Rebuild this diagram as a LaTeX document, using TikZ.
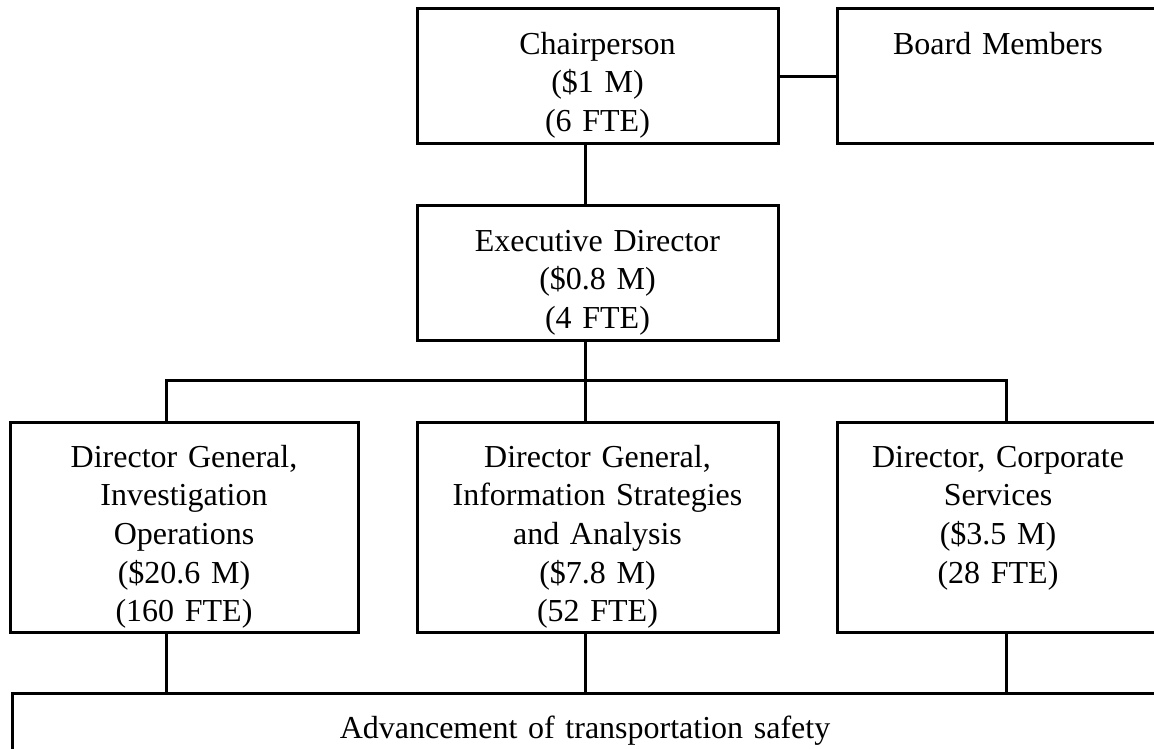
\documentclass[tikz,border=0pt]{standalone}
\usepackage{fontspec}
\setmainfont{Liberation Serif}
\usepackage{tikz}
\usetikzlibrary{positioning,calc}

\begin{document}
\begin{tikzpicture}[
  box/.style={draw, line width=1.5pt, inner sep=0pt, outer sep=0pt, align=center,
    text height=22.6pt, font=\fontsize{16pt}{19.3pt}\selectfont},
  headbox/.style={box, text width=180.5pt, text depth=44.9pt},
  unitbox/.style={box, text depth=82.4pt},
  link/.style={line width=1.5pt}
]
\path[fill=white, use as bounding box] (0,0) rectangle (577pt,-374pt);
\coordinate (spine) at (292.5pt,0);
\coordinate (lefttap) at (83pt,0);
\coordinate (righttap) at (503pt,0);

\node[headbox] (chair) at (298.75pt,-38.25pt) {Chairperson\\(\$1 M)\\(6 FTE)};
\node[headbox, text width=161pt, right=29.5pt of chair] (board) {Board Members};
\node[headbox, text depth=44.4pt, below=31pt of chair] (exec) {Executive Director\\(\$0.8 M)\\(4 FTE)};
\node[unitbox, text width=180.5pt, below=41pt of exec] (analysis) {Director General,\\Information Strategies\\and Analysis\\(\$7.8 M)\\(52 FTE)};
\node[unitbox, text width=174pt, left=29.5pt of analysis] (ops) {Director General,\\Investigation\\Operations\\(\$20.6 M)\\(160 FTE)};
\node[unitbox, text width=161pt, right=29.5pt of analysis] (corp) {Director, Corporate\\Services\\(\$3.5 M)\\(28 FTE)};
\node[box, text width=573pt, text depth=37.4pt, anchor=north] (goal)
  at ($(analysis.south -| spine)+(0,-30.5pt)$) {Advancement of transportation safety};

\coordinate (bus) at ($(exec.south -| spine)+(0,-20pt)$);

\draw[link] (chair.east) -- (board.west);
\draw[link] (chair.south -| spine) -- (exec.north -| spine);
\draw[link] (exec.south -| spine) -- (analysis.north -| spine);
\draw[link] (ops.north -| lefttap) |- (bus) -| (corp.north -| righttap);
\draw[link] (ops.south -| lefttap) -- (goal.north -| lefttap);
\draw[link] (analysis.south -| spine) -- (goal.north -| spine);
\draw[link] (corp.south -| righttap) -- (goal.north -| righttap);
\end{tikzpicture}
\end{document}
